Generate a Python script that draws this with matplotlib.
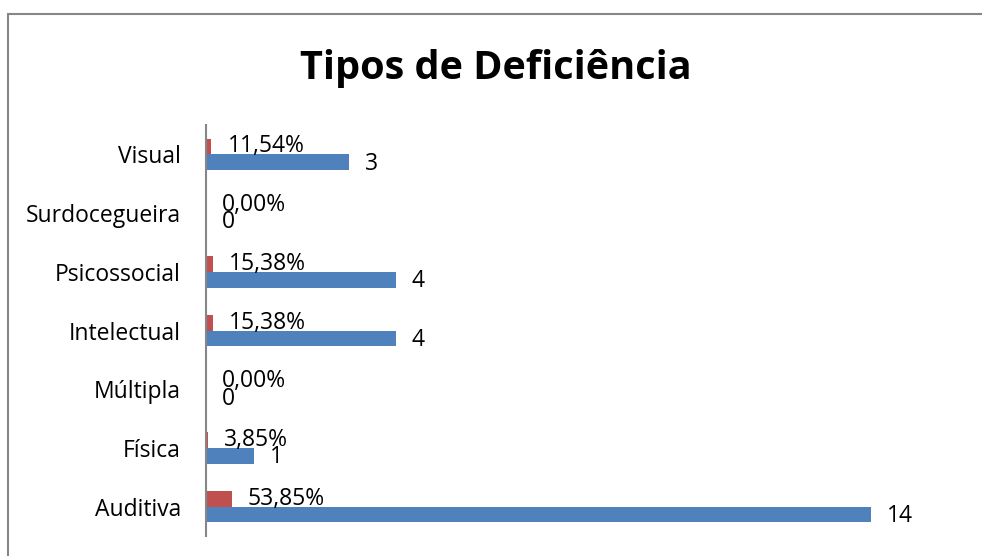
import matplotlib.pyplot as plt
from matplotlib.patches import Rectangle
import numpy as np

plt.rcParams["font.family"] = ["Open Sans", "DejaVu Sans"]

categorias = ["Auditiva", "Física", "Múltipla", "Intelectual", "Psicossocial", "Surdocegueira", "Visual"]
quantidades = [14, 1, 0, 4, 4, 0, 3]
percentuais = [0.5385, 0.0385, 0.0, 0.1538, 0.1538, 0.0, 0.1154]
rotulos_pct = ["53,85%", "3,85%", "0,00%", "15,38%", "15,38%", "0,00%", "11,54%"]

cor_azul = "#4F81BD"
cor_vermelha = "#C0504D"

fig = plt.figure(figsize=(9.82, 5.56), dpi=100)
ax = fig.add_axes([206 / 982, 20 / 556, 760 / 982, 411 / 556])

y = np.arange(len(categorias))
altura = 0.27

ax.barh(y - altura / 2, quantidades, height=altura, color=cor_azul)
ax.barh(y + altura / 2, percentuais, height=altura, color=cor_vermelha)

for i in range(len(categorias)):
    ax.annotate(str(quantidades[i]), (quantidades[i], y[i] - altura / 2),
                xytext=(11.5, -1), textcoords="offset points",
                ha="left", va="center", fontsize=16.5)
    ax.annotate(rotulos_pct[i], (percentuais[i], y[i] + altura / 2),
                xytext=(11.5, 0), textcoords="offset points",
                ha="left", va="center", fontsize=16.5)

ax.set_xlim(0, 16)
ax.set_ylim(-0.5, len(categorias) - 0.5)
ax.set_yticks(y)
ax.set_yticklabels(categorias, fontsize=16.5)
ax.tick_params(axis="y", length=0, pad=18)
ax.set_xticks([])

for lado in ["top", "right", "bottom"]:
    ax.spines[lado].set_visible(False)
ax.spines["left"].set_color("#868686")
ax.spines["left"].set_linewidth(1.5)

fig.text(496 / 982, 1 - 69 / 556, "Tipos de Deficiência", ha="center", va="center",
         fontsize=28.5, fontweight="bold")

# moldura do gráfico (cortada à direita e embaixo)
fig.patches.append(Rectangle((7.5 / 982, -0.1), 1.2, 1 - 13.5 / 556 + 0.1,
                             transform=fig.transFigure, fill=False,
                             edgecolor="#868686", linewidth=1.5))

fig.savefig("out.png", dpi=100)
